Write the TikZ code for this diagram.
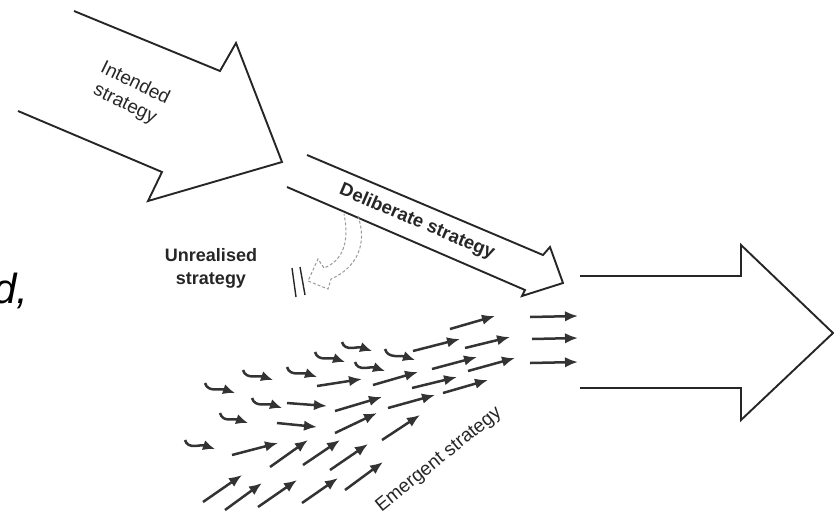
\documentclass[tikz,border=0pt]{standalone}
\usepackage{fontspec}
\setmainfont{Liberation Sans}
\usetikzlibrary{arrows.meta}
\tikzset
{
    outline/.style  = {draw=black!85, line width=1.9pt, line join=miter},
    drift/.style    = {draw=black!80, line width=2.5pt, -{Latex[length=13pt, width=10.5pt]}},
    hook/.style     = {drift, -{Latex[length=12pt, width=10.5pt]}},
    unreal/.style   = {draw=black!40, densely dashed, line width=1pt},
    caption/.style  = {font=\fontsize{19}{23}\selectfont, align=center, inner sep=0pt, text=black!85}
}

\begin{document}
\begin{tikzpicture}[x=1pt, y=-1pt]
	\useasboundingbox (0,0) rectangle (834,515);
	\clip (0,0) rectangle (834,515);

	% cut-off text at the left edge
	\node (cutoff) [anchor=base west, inner sep=0pt, font=\fontsize{42}{48}\selectfont\itshape] at (-7,303) {d,};

	% the three big arrows
	\draw [outline] (74,11) -- (220,71) -- (236,43) -- (282,162) -- (148,201) -- (162,172) -- (18,111);
	\draw [outline] (307,155) -- (543,255) -- (550,247) -- (563,283) -- (522,296) -- (525,290) -- (287,187);
	\draw [outline] (580,276) -- (741,276) -- (741,245) -- (833,333) -- (741,420) -- (741,388) -- (580,388);

	\node (intended) [caption, rotate=-26] at (130,94) {Intended\\strategy};
	\node (deliberate) [caption, rotate=-23, font=\fontsize{18.5}{22}\selectfont\bfseries] at (417,222) {Deliberate strategy};
	\node (unrealised) [caption, font=\fontsize{18}{23}\selectfont\bfseries] at (211,268) {Unrealised\\strategy};
	\node (emergent) [caption, rotate=39] at (439,460) {Emergent strategy};

	% unrealised part, blocked
	\draw [unreal] (358,216) .. controls (368,245) and (356,268) .. (331,279) -- (328,289) -- (308,281) -- (318,259) -- (324,268) .. controls (342,261) and (350,243) .. (344,214);
	\draw [outline, line width=1.4pt] (292,268) -- (296,297);
	\draw [outline, line width=1.4pt] (300,267) -- (305,295);

	% emergent swarm
	\foreach \sx/\sy/\ex/\ey in {450/329/495/316, 413/351/460/339, 465/348/510/337, 432/369/477/357,
		468/371/515/358, 412/388/457/377, 443/393/488/380, 373/385/418/372, 317/386/362/379,
		335/411/382/397, 388/408/435/395, 335/433/377/413, 382/440/420/415, 287/403/327/406,
		277/423/317/427, 232/455/278/443, 270/467/308/440, 303/465/340/440, 330/470/368/444,
		345/490/383/462, 203/502/242/475, 225/510/262/483, 258/507/297/480, 302/503/338/478,
		530/317/578/316, 532/339/578/338, 530/363/578/362}
		\draw [drift] (\sx,\sy) -- (\ex,\ey);
	\foreach \sx/\sy/\ex/\ey in {342/342/372/351, 385/349/415/360, 315/352/345/362, 355/362/385/371,
		287/367/317/377, 243/370/273/380, 205/383/235/393, 252/398/282/408, 220/413/248/423,
		185/440/215/449}
		\draw [hook] (\sx,\sy) .. controls +(3,10) and +(-15,-5) .. (\ex,\ey);
\end{tikzpicture}
\end{document}
